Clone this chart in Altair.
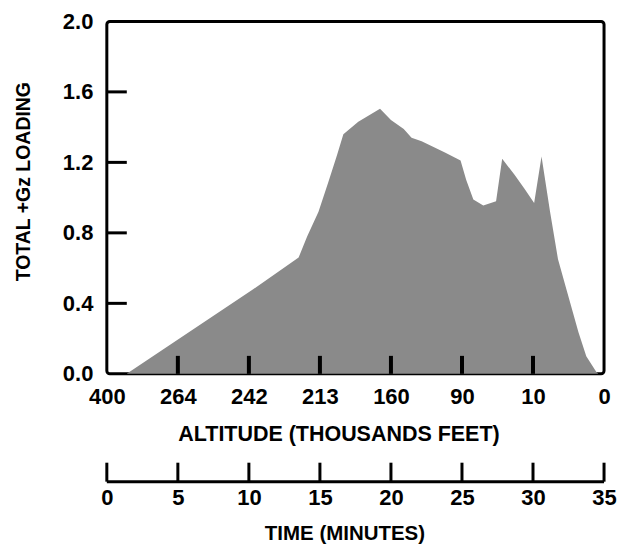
import altair as alt
import pandas as pd

# ---- data ----
time_min = [0, 1.4, 10.3, 13.5, 14.1, 14.9, 15.6, 16.2, 16.65, 17.7, 19.23, 20.0, 20.9,
            21.45, 22.16, 23.8, 24.9, 25.3, 25.8, 26.5, 27.4, 27.83, 28.7, 29.4, 30.08,
            30.6, 31.2, 31.76, 32.35, 33.2, 33.75, 34.46, 34.6]
gz_load = [0, 0, 0.48, 0.66, 0.78, 0.92, 1.09, 1.24, 1.36, 1.43, 1.505, 1.44, 1.39,
           1.34, 1.32, 1.256, 1.21, 1.10, 0.99, 0.955, 0.98, 1.22, 1.13, 1.05, 0.97,
           1.233, 0.92, 0.65, 0.48, 0.236, 0.10, 0.01, 0]

time_ticks = [0, 5, 10, 15, 20, 25, 30, 35]
altitude_labels = ["400", "264", "242", "213", "160", "90", "10", "0"]
inner_x_ticks = [5, 10, 15, 20, 25, 30]
y_ticks = [0.0, 0.4, 0.8, 1.2, 1.6, 2.0]
inner_y_ticks = [0.4, 0.8, 1.2, 1.6]

FONT = "Liberation Sans"
W, H = 498, 353

df = pd.DataFrame({"t": time_min, "g": gz_load})
xt = pd.DataFrame({"t": inner_x_ticks})
yt = pd.DataFrame({"g": inner_y_ticks})
tt = pd.DataFrame({"t": time_ticks})
base_line = pd.DataFrame({"t0": [time_ticks[0]], "t1": [time_ticks[-1]]})

label_expr = "[" + ",".join("'%s'" % s for s in altitude_labels) + "][round(datum.value/5)]"

xscale = alt.Scale(domain=[0, 35], nice=False, zero=False)
yscale = alt.Scale(domain=[0, 2.0], nice=False)

x_axis = alt.Axis(values=time_ticks, labelExpr=label_expr, ticks=False, domain=False,
                  grid=False, labelFont=FONT, labelFontSize=22, labelFontWeight="bold",
                  labelColor="black", labelPadding=13, title="ALTITUDE (THOUSANDS FEET)",
                  titleFont=FONT, titleFontSize=21.5, titleFontWeight="bold", titleColor="black",
                  titlePadding=16, titleX=232, labelFlush=False)
y_axis = alt.Axis(values=y_ticks, format=".1f", ticks=False, domain=False, grid=False,
                  labelFont=FONT, labelFontSize=22, labelFontWeight="bold", labelColor="black",
                  labelPadding=14, title="TOTAL +Gz LOADING", titleFont=FONT,
                  titleFontSize=19.5, titleFontWeight="bold", titleColor="black",
                  titlePadding=29, titleY=160)

area = alt.Chart(df).mark_area(color="#8a8a8a", opacity=1).encode(
    x=alt.X("t:Q", scale=xscale, axis=x_axis),
    y=alt.Y("g:Q", scale=yscale, axis=y_axis),
)
xticks = alt.Chart(xt).mark_rule(color="black", strokeWidth=4).encode(
    x=alt.X("t:Q", scale=xscale), y=alt.value(H), y2=alt.value(H - 18)
)
yticks = alt.Chart(yt).mark_rule(color="black", strokeWidth=3).encode(
    y=alt.Y("g:Q", scale=yscale), x=alt.value(0), x2=alt.value(20)
)
main = alt.layer(area, xticks, yticks).properties(
    width=W, height=H,
    view=alt.ViewBackground(stroke="black", strokeWidth=3, cornerRadius=3),
)

TH = 19
t_axis = alt.Axis(values=time_ticks, format="d", ticks=False, domain=False, grid=False,
                  labelFont=FONT, labelFontSize=22, labelFontWeight="bold", labelColor="black",
                  labelPadding=6, title="TIME (MINUTES)", titleFont=FONT, titleFontSize=20.5,
                  titleFontWeight="bold", titleColor="black", titlePadding=15, titleX=238,
                  labelFlush=False)
t_ticks = alt.Chart(tt).mark_rule(color="black", strokeWidth=3).encode(
    x=alt.X("t:Q", scale=xscale, axis=t_axis), y=alt.value(0), y2=alt.value(TH)
)
t_base = alt.Chart(base_line).mark_rule(color="black", strokeWidth=3).encode(
    x=alt.X("t0:Q", scale=xscale), x2="t1:Q", y=alt.value(TH)
)
time_panel = alt.layer(t_ticks, t_base).properties(
    width=W, height=TH, view=alt.ViewBackground(stroke=None)
)

chart = alt.vconcat(main, time_panel, spacing=14).properties(
    padding={"left": 11, "top": 8, "right": 10, "bottom": 0},
    background="white",
).configure_view(stroke=None)

chart.save("out.html", embed_options={"renderer": "svg", "actions": False})
